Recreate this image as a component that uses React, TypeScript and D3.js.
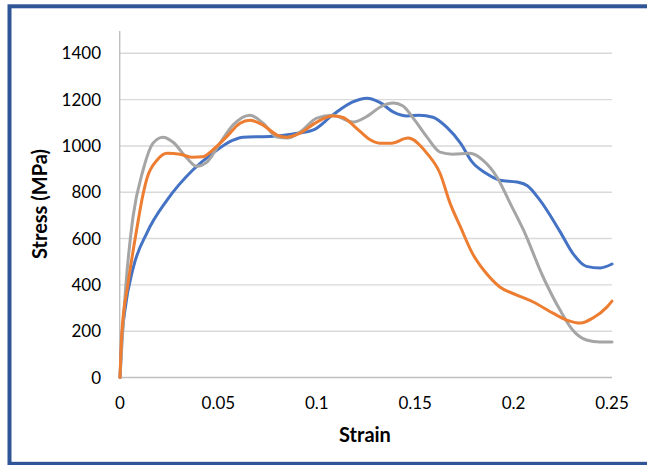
import React from "react";
import * as d3 from "d3";

// Stress–strain curves (strain, stress in MPa)
const blueSeries: [number, number][] = [
  [0, 0], [0.0008, 150], [0.0025, 290], [0.0066, 470], [0.0137, 625], [0.0239, 766],
  [0.037, 896], [0.047, 968], [0.0574, 1025], [0.0625, 1038], [0.0777, 1042], [0.088, 1052],
  [0.098, 1068], [0.108, 1133], [0.118, 1189], [0.1255, 1206], [0.132, 1188], [0.139, 1146],
  [0.146, 1129], [0.152, 1133], [0.159, 1124], [0.166, 1081], [0.173, 1012], [0.179, 930],
  [0.186, 882], [0.193, 852], [0.2017, 844], [0.207, 828], [0.213, 770], [0.2236, 630],
  [0.23, 537], [0.237, 480], [0.244, 473], [0.25, 490],
];

const orangeSeries: [number, number][] = [
  [0, 0], [0.0009, 190], [0.004, 400], [0.0085, 640], [0.0112, 770], [0.0137, 860],
  [0.019, 940], [0.0239, 968], [0.0305, 964], [0.037, 951], [0.042, 953], [0.047, 982],
  [0.054, 1038], [0.061, 1098], [0.066, 1111], [0.0727, 1090], [0.0798, 1047], [0.085, 1038],
  [0.0915, 1055], [0.1, 1103], [0.108, 1129], [0.113, 1124], [0.1204, 1075], [0.1265, 1030],
  [0.132, 1012], [0.138, 1012], [0.1463, 1034], [0.156, 968], [0.1626, 882], [0.1677, 753],
  [0.173, 650], [0.179, 537], [0.186, 451], [0.193, 391], [0.2017, 356], [0.21, 326],
  [0.22, 278], [0.227, 248], [0.234, 235], [0.2403, 257], [0.2474, 304], [0.25, 330],
];

const graySeries: [number, number][] = [
  [0, 0], [0.003, 400], [0.0066, 693], [0.0117, 895], [0.0168, 1012], [0.0218, 1038],
  [0.027, 1016], [0.034, 947], [0.039, 912], [0.044, 929], [0.0508, 1012], [0.0574, 1090],
  [0.0661, 1133], [0.0727, 1098], [0.0798, 1038], [0.085, 1034], [0.0915, 1060], [0.1, 1120],
  [0.108, 1133], [0.1184, 1103], [0.1265, 1133], [0.132, 1167], [0.139, 1185], [0.1438, 1172],
  [0.149, 1120], [0.156, 1038], [0.1626, 973], [0.169, 964], [0.1778, 968], [0.1845, 938],
  [0.1916, 865], [0.1982, 753], [0.205, 637], [0.215, 434], [0.2236, 291], [0.23, 205],
  [0.237, 162], [0.2439, 153], [0.25, 153],
];

const yTicks = [0, 200, 400, 600, 800, 1000, 1200, 1400];
const xTicks = [0, 0.05, 0.1, 0.15, 0.2, 0.25];
const xTickLabels = ["0", "0.05", "0.1", "0.15", "0.2", "0.25"];

const series = [
  { name: "blue", data: blueSeries, color: "#4472C4" },
  { name: "gray", data: graySeries, color: "#A5A5A5" },
  { name: "orange", data: orangeSeries, color: "#ED7D31" },
];

const W = 647;
const H = 465;
const FONT = "Lato, 'Open Sans', sans-serif";

export default function App() {
  const x = d3.scaleLinear().domain([0, 0.25]).range([120, 612]);
  const y = d3.scaleLinear().domain([0, 1400]).range([377.5, 53.3]);

  const line = d3
    .line<[number, number]>()
    .x((d) => x(d[0]))
    .y((d) => y(d[1]))
    .curve(d3.curveMonotoneX);

  return (
    <div style={{ position: "absolute", left: 0, top: 0 }}>
      <svg width={W} height={H} style={{ display: "block", background: "#fff" }}>
        <rect x={0} y={0} width={W} height={H} fill="#fff" />
        {/* frame */}
        <rect
          x={9.5}
          y={6.3}
          width={700}
          height={457.5}
          fill="none"
          stroke="#2F5597"
          strokeWidth={4}
        />
        {/* gridlines */}
        {yTicks.slice(1).map((t) => (
          <line key={t} x1={120} x2={612} y1={y(t)} y2={y(t)} stroke="#D9D9D9" strokeWidth={1.4} />
        ))}
        {/* axes */}
        <line x1={120} x2={612} y1={y(0)} y2={y(0)} stroke="#BFBFBF" strokeWidth={1.4} />
        <line x1={119.7} x2={119.7} y1={31} y2={y(0)} stroke="#BFBFBF" strokeWidth={1.4} />
        {/* tick labels */}
        {yTicks.map((t) => (
          <text
            key={t}
            x={101}
            y={y(t)}
            dy="0.36em"
            textAnchor="end"
            fontFamily={FONT}
            fontSize={17}
            fill="#000"
          >
            {t}
          </text>
        ))}
        {xTicks.map((t, i) => (
          <text
            key={t}
            x={x(t)}
            y={403}
            dy="0.36em"
            textAnchor="middle"
            fontFamily={FONT}
            fontSize={17}
            fill="#000"
          >
            {xTickLabels[i]}
          </text>
        ))}
        {/* axis titles */}
        <text
          x={365}
          y={435}
          dy="0.36em"
          textAnchor="middle"
          fontFamily={FONT}
          fontWeight="bold"
          fontSize={20}
          fill="#000"
        >
          Strain
        </text>
        <text
          transform={`translate(40,204) rotate(-90)`}
          dy="0.36em"
          textAnchor="middle"
          fontFamily={FONT}
          fontWeight="bold"
          fontSize={20}
          fill="#000"
        >
          Stress (MPa)
        </text>
        {/* curves */}
        {series.map((s) => (
          <path
            key={s.name}
            d={line(s.data) ?? ""}
            fill="none"
            stroke={s.color}
            strokeWidth={3}
            strokeLinejoin="round"
            strokeLinecap="round"
          />
        ))}
      </svg>
    </div>
  );
}
